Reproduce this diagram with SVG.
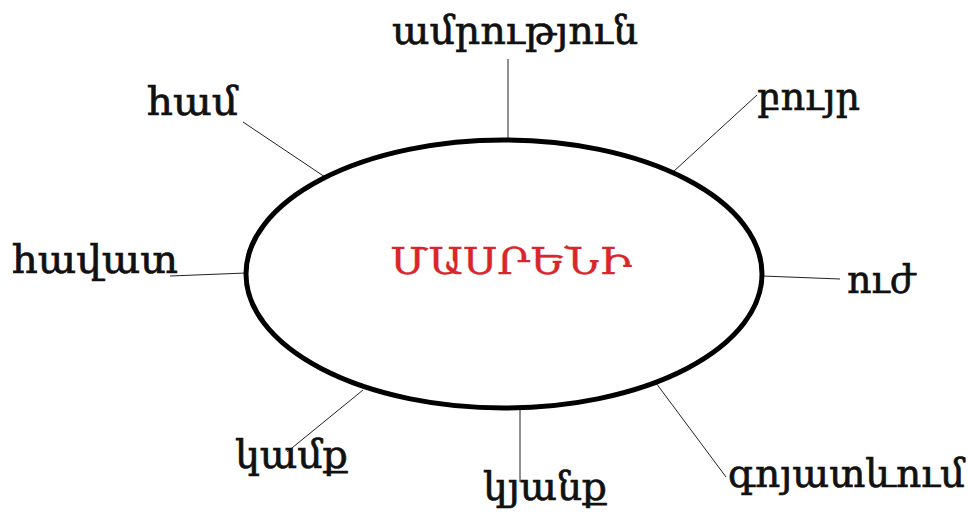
<svg xmlns="http://www.w3.org/2000/svg" width="968" height="519" viewBox="0 0 968 519">
<style>
.lbl{font-family:"DejaVu Serif","Liberation Serif",serif;font-size:39px;fill:#111;stroke:#111;stroke-width:0.7px;}
.ctr{font-family:"DejaVu Serif","Liberation Serif",serif;font-size:37px;fill:#d9262b;stroke:#d9262b;stroke-width:0.3px;}
.ln{stroke:#222;stroke-width:1;fill:none;}
</style>
<rect width="968" height="519" fill="#fff"/>
<g id="connectors">
<line class="ln" x1="508" y1="59" x2="508" y2="140"/>
<line class="ln" x1="243" y1="122" x2="325" y2="177"/>
<line class="ln" x1="757" y1="95" x2="673" y2="172"/>
<line class="ln" x1="170" y1="276" x2="246" y2="273"/>
<line class="ln" x1="762" y1="276" x2="840" y2="279"/>
<line class="ln" x1="363" y1="390" x2="287" y2="452"/>
<line class="ln" x1="520" y1="409" x2="520" y2="482"/>
<line class="ln" x1="656" y1="383" x2="726" y2="477"/>
</g>
<g id="center">
<ellipse cx="504" cy="274" rx="258" ry="134" fill="none" stroke="#000" stroke-width="5"/>
<text class="ctr" x="390" y="274" textLength="242" lengthAdjust="spacingAndGlyphs">ՄԱՍՐԵՆԻ</text>
</g>
<g id="n-amrutyun"><text class="lbl" x="392" y="44" textLength="246" lengthAdjust="spacingAndGlyphs">ամրություն</text></g>
<g id="n-ham"><text class="lbl" x="147" y="115" textLength="91" lengthAdjust="spacingAndGlyphs">համ</text></g>
<g id="n-buyr"><text class="lbl" x="757" y="110" textLength="103" lengthAdjust="spacingAndGlyphs">բույր</text></g>
<g id="n-havat"><text class="lbl" x="12" y="273" textLength="166" lengthAdjust="spacingAndGlyphs">հավատ</text></g>
<g id="n-uzh"><text class="lbl" x="847" y="293" textLength="68" lengthAdjust="spacingAndGlyphs">ուժ</text></g>
<g id="n-kamq"><text class="lbl" x="235" y="468" textLength="113" lengthAdjust="spacingAndGlyphs">կամք</text></g>
<g id="n-kyanq"><text class="lbl" x="483" y="500" textLength="124" lengthAdjust="spacingAndGlyphs">կյանք</text></g>
<g id="n-goyatevum"><text class="lbl" x="728" y="487" textLength="237" lengthAdjust="spacingAndGlyphs">գոյատևում</text></g>
</svg>
